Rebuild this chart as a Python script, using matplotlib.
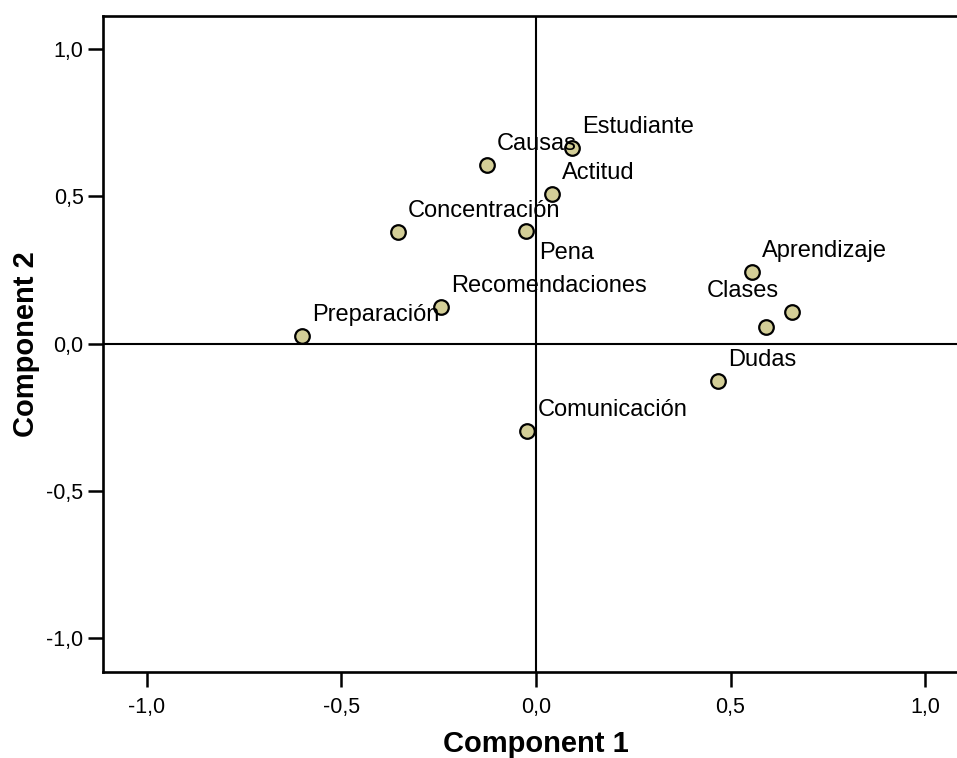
import matplotlib
matplotlib.use("Agg")
import matplotlib.pyplot as plt
from matplotlib.ticker import FuncFormatter

plt.rcParams['font.family'] = ['Liberation Sans', 'DejaVu Sans']

# component loadings
names = ['Estudiante', 'Causas', 'Actitud', 'Pena', 'Concentración',
         'Recomendaciones', 'Preparación', 'Aprendizaje', '', 'Clases',
         'Dudas', 'Comunicación']
comp1 = [0.093, -0.127, 0.040, -0.026, -0.356, -0.245, -0.602, 0.556,
         0.657, 0.590, 0.469, -0.022]
comp2 = [0.665, 0.606, 0.507, 0.382, 0.378, 0.125, 0.026, 0.244,
         0.106, 0.055, -0.126, -0.297]
ticks = [-1.0, -0.5, 0.0, 0.5, 1.0]

# label offsets in pixels (SPSS puts most labels up-right of the point)
offsets = [(10, 21)] * len(names)
offsets[3] = (13, -22)    # Pena below right
offsets[9] = (-59, 36)    # Clases up left

fig = plt.figure(figsize=(9.57, 7.58), dpi=100)
ax = fig.add_axes([103/957, 1-672/758, 866/957, 656/758])

ax.axhline(0, color='black', lw=1.5, zorder=1)
ax.axvline(0, color='black', lw=1.5, zorder=1)
ax.plot(comp1, comp2, 'o', ms=10.5, mfc='#d3ce97', mec='black', mew=1.6, zorder=3)
for n, x, y, off in zip(names, comp1, comp2, offsets):
    if n:
        ax.annotate(n, (x, y), xytext=off, textcoords='offset pixels',
                    ha='left', va='center', fontsize=17, zorder=4)

ax.set_xlim(-1.113, 1.113)
ax.set_ylim(-1.115, 1.112)
ax.set_xticks(ticks)
ax.set_yticks(ticks)
fmt = FuncFormatter(lambda v, p: ('%.1f' % v).replace('.', ','))
ax.xaxis.set_major_formatter(fmt)
ax.yaxis.set_major_formatter(fmt)
ax.tick_params(length=11, width=1.8, labelsize=15.5, pad=3)
ax.tick_params(axis='x', pad=7)
for s in ax.spines.values():
    s.set_linewidth(1.9)

ax.set_xlabel('Component 1', fontsize=21, fontweight='bold')
ax.set_ylabel('Component 2', fontsize=21, fontweight='bold')
ax.xaxis.set_label_coords(0.5, -0.088)
ax.yaxis.set_label_coords(-0.073, 0.5)

plt.savefig('out.png', dpi=100)
